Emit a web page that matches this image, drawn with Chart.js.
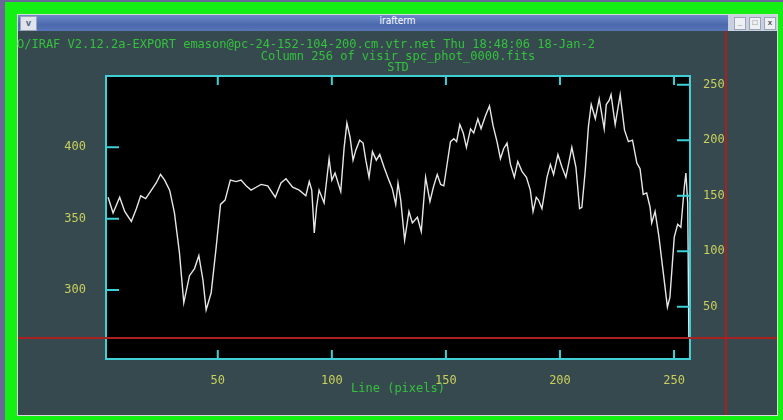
<!DOCTYPE html>
<html>
<head>
<meta charset="utf-8">
<script src="https://cdn.jsdelivr.net/npm/chart.js@4.4.1/dist/chart.umd.min.js"></script>
<style>
  body { margin: 0; width: 783px; height: 420px; overflow: hidden; background: #14f014; position: relative; font-family: "DejaVu Sans Mono", monospace; }
  .abs { position: absolute; }
  #strip-left { left: 0; top: 0; width: 5px; height: 420px; background: #6a6896; }
  #strip-top { left: 0; top: 0; width: 783px; height: 2px; background: #6a6896; }
  #win { left: 17px; top: 14px; width: 759px; height: 400px; background: #35494e; border: 1px solid #d8dcd8; }
  #titlebar { left: 18px; top: 15px; width: 710px; height: 16px; background: linear-gradient(#6d8bcb, #4b69ad 60%, #5674b6); }
  #titleright { left: 728px; top: 15px; width: 49px; height: 16px; background: #c9d1e1; }
  #titletext { left: 18px; top: 15px; width: 759px; height: 16px; line-height: 16px; text-align: center; color: #ffffff; font: 10px "DejaVu Sans Condensed", sans-serif; }
  #menubtn { left: 20px; top: 16px; width: 15px; height: 13px; background: #dfe3ec; border: 1px solid #9aa3b8; color: #4b5a7a; font: bold 9px sans-serif; text-align: center; line-height: 12px; }
  .wbtn { top: 17px; width: 10px; height: 11px; background: #eef0f4; border: 1px solid #9aa3b8; color: #555; font: bold 8px sans-serif; text-align: center; line-height: 10px; }
  .hdr { color: #33c23c; font-size: 12px; line-height: 12px; white-space: pre; z-index: 3; }
  .ctr { width: 600px; text-align: center; }
  #redh { left: 18px; top: 337px; width: 759px; height: 2px; background: #a8201f; z-index: 3; }
  #redv { left: 725px; top: 31px; width: 2px; height: 384px; background: #a8201f; z-index: 3; }
  #chart { position: absolute; left: 0; top: 0; z-index: 2; }
</style>
</head>
<body>
<div class="abs" id="strip-left"></div>
<div class="abs" id="strip-top"></div>
<div class="abs" id="win"></div>
<div class="abs" id="titlebar"></div>
<div class="abs" id="titleright"></div>
<div class="abs" id="titletext">irafterm</div>
<div class="abs" id="menubtn">v</div>
<div class="abs wbtn" style="left:734px">_</div>
<div class="abs wbtn" style="left:749px">□</div>
<div class="abs wbtn" style="left:764px">x</div>

<div class="abs hdr" style="left:17px; top:38px;">O/IRAF V2.12.2a-EXPORT emason@pc-24-152-104-200.cm.vtr.net Thu 18:48:06 18-Jan-2</div>
<div class="abs hdr ctr" style="left:98px; top:50px;">Column 256 of visir_spc_phot_0000.fits</div>
<div class="abs hdr ctr" style="left:98px; top:61px;">STD</div>
<div class="abs hdr ctr" style="left:98px; top:382px;">Line (pixels)</div>

<canvas id="chart" width="783" height="420"></canvas>
<div class="abs" id="redh"></div>
<div class="abs" id="redv"></div>

<script>
// line number along the column (pixels)
var lines = [1.9, 4.1, 7, 9.2, 12.1, 14.3, 16.2, 18.4, 20.9, 23, 24.9, 26.7, 28.9, 31, 33.2, 35.1, 37.6, 39.8,
  41.7, 43.5, 44.9, 47.1, 49.3, 51.2, 53.2, 55.5, 58, 60.2, 62.4, 64.6, 66.8, 69, 71.9, 75.2, 77.7, 79.9,
  82.8, 85.7, 88.6, 90.1, 91.2, 92.3, 93.3, 94.4, 96.6, 98.8, 100, 101.4, 103.9, 105.4, 106.6, 108, 109.3,
  110.5, 112.2, 113.7, 114.9, 116.3, 117.8, 119.5, 121, 122.9, 125, 126.5, 128, 129, 130.2, 131.9, 133.8,
  135.3, 137.5, 139.2, 141.1, 143, 144.5, 146.2, 147.7, 149.1, 150.6, 152, 153.5, 154.7, 156.1, 157.6, 159,
  160.8, 162.2, 164, 165.4, 167.3, 169.1, 170.7, 172.4, 173.9, 175.3, 176.8, 178.3, 180, 181.5, 183.4, 185.3,
  187, 188.2, 189.6, 190.6, 192.1, 194.3, 195.8, 197.2, 199.1, 200.9, 202.6, 205.2, 207, 208.6, 209.6, 211.1,
  212.5, 213.7, 215.5, 217.2, 219.4, 220.3, 221.6, 222.4, 224.2, 226.4, 228.3, 230, 231.8, 233.7, 235.1,
  236.5, 238, 239.5, 240.2, 241.7, 243.4, 245.3, 247.1, 248.2, 250.1, 251.6, 253, 254.5, 255.2, 256, 256.5];

// counts in column 256
var counts = [365, 354, 365, 355, 348, 357, 366, 364, 370, 375, 381, 377, 370, 354, 326, 291, 310, 315,
  324, 307, 286, 298, 330, 360, 363, 377, 376, 377, 373, 370, 372, 374, 373, 365, 375, 378,
  372, 370, 366, 376, 370, 340, 358, 370, 361, 392, 377, 382, 369, 400, 417, 407, 391,
  398, 405, 403, 391, 379, 397, 391, 395, 386, 377, 371, 360, 375, 363, 335, 355,
  347, 351, 341, 379, 362, 372, 381, 374, 373, 389, 404, 406, 404, 416, 410, 400,
  413, 410, 420, 413, 422, 429, 415, 404, 392, 399, 403, 388, 379, 390, 383, 379,
  370, 355, 365, 363, 357, 379, 388, 381, 395, 386, 379, 400, 386, 357, 358, 384,
  415, 430, 420, 434, 413, 430, 433, 437, 416, 437, 412, 404, 405, 389, 385,
  367, 368, 358, 347, 355, 337, 312, 288, 295, 337, 346, 344, 372, 382, 361, 266];

var xTicks = [50, 100, 150, 200, 250];
var leftTicks = [300, 350, 400];
var rightTicks = [50, 100, 150, 200, 250];

var points = lines.map(function (x, i) {
  return { x: x, y: counts[i] };
});

var axisColor = '#3fcfd6';
var labelColor = '#c9cf5c';
var tickFont = { family: 'DejaVu Sans Mono', size: 12 };

// black plot area, cyan frame and inward ticks like the IRAF graphics terminal
var irafFrame = {
  id: 'irafFrame',
  beforeDraw: function (chart) {
    var a = chart.chartArea, ctx = chart.ctx;
    ctx.save();
    ctx.fillStyle = '#000000';
    ctx.fillRect(a.left, a.top, a.right - a.left, a.bottom - a.top);
    ctx.restore();
  },
  afterDraw: function (chart) {
    var a = chart.chartArea, ctx = chart.ctx;
    ctx.save();
    ctx.strokeStyle = axisColor;
    ctx.lineWidth = 2;
    ctx.strokeRect(a.left, a.top, a.right - a.left, a.bottom - a.top);
    ctx.beginPath();
    chart.scales.x.ticks.forEach(function (t) {
      var px = chart.scales.x.getPixelForValue(t.value);
      ctx.moveTo(px, a.bottom); ctx.lineTo(px, a.bottom - 9);
      ctx.moveTo(px, a.top); ctx.lineTo(px, a.top + 9);
    });
    chart.scales.y.ticks.forEach(function (t) {
      var py = chart.scales.y.getPixelForValue(t.value);
      ctx.moveTo(a.left, py); ctx.lineTo(a.left + 13, py);
    });
    chart.scales.y2.ticks.forEach(function (t) {
      var py = chart.scales.y2.getPixelForValue(t.value);
      ctx.moveTo(a.right, py); ctx.lineTo(a.right - 13, py);
    });
    ctx.stroke();
    ctx.restore();
  }
};

new Chart(document.getElementById('chart'), {
  type: 'line',
  data: {
    datasets: [{
      data: points,
      borderColor: '#e6e6e6',
      borderWidth: 1.4,
      pointRadius: 0,
      tension: 0,
      yAxisID: 'y'
    }]
  },
  options: {
    responsive: false,
    animation: false,
    devicePixelRatio: 1,
    layout: { padding: { top: 76, left: 0, right: 0, bottom: 0 } },
    plugins: { legend: { display: false }, tooltip: { enabled: false } },
    scales: {
      x: {
        type: 'linear', position: 'bottom', min: 1, max: 257,
        grid: { display: false }, border: { display: false },
        ticks: { color: labelColor, font: tickFont, padding: 7, maxRotation: 0 },
        afterBuildTicks: function (s) { s.ticks = xTicks.map(function (v) { return { value: v }; }); },
        afterFit: function (s) { s.height = 61; }
      },
      y: {
        type: 'linear', position: 'left', min: 251.6, max: 450,
        grid: { display: false }, border: { display: false },
        ticks: { color: labelColor, font: tickFont, padding: 12 },
        afterBuildTicks: function (s) { s.ticks = leftTicks.map(function (v) { return { value: v }; }); },
        afterFit: function (s) { s.width = 106; }
      },
      y2: {
        type: 'linear', position: 'right', min: 2.8, max: 258,
        grid: { display: false }, border: { display: false },
        ticks: { color: labelColor, font: tickFont, padding: 5 },
        afterBuildTicks: function (s) { s.ticks = rightTicks.map(function (v) { return { value: v }; }); },
        afterFit: function (s) { s.width = 93; }
      }
    }
  },
  plugins: [irafFrame]
});
</script>
</body>
</html>
